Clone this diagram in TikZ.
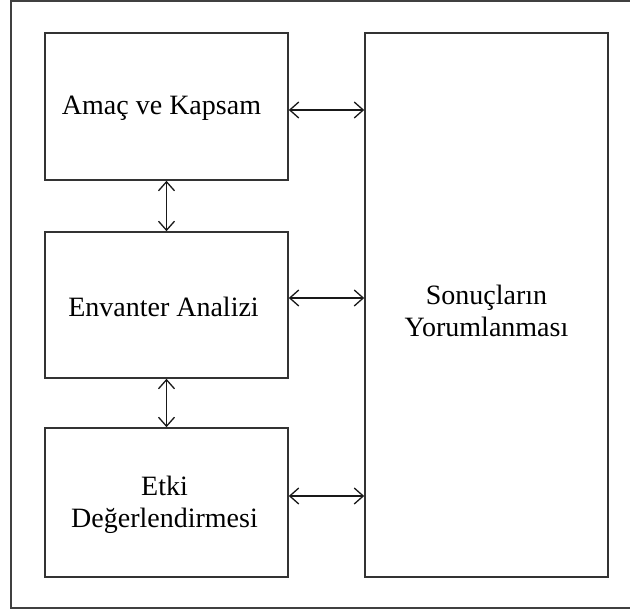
\documentclass[tikz,border=0pt]{standalone}
\usepackage{fontspec}
\setmainfont{Liberation Serif}
\usetikzlibrary{arrows.meta}
\begin{document}
\begin{tikzpicture}[x=1pt,y=-1pt,
  box/.style={draw=black!80,line width=1.6pt},
  lbl/.style={font=\fontsize{28}{32}\selectfont,align=center,text=black},
  biarrow/.style={draw=black!90,line width=1.3pt,{Straight Barb[length=9pt,width=16pt]}-{Straight Barb[length=9pt,width=16pt]}}]
\useasboundingbox (0,0) rectangle (630,613);
\draw[draw=black!75,line width=1.3pt] (11,1) rectangle (634,608);
\node[box,minimum width=243pt,minimum height=147pt,inner sep=0pt] (amac) at (166.5,106.5) {};
\node[box,minimum width=243pt,minimum height=146pt,inner sep=0pt] (env) at (166.5,305) {};
\node[box,minimum width=243pt,minimum height=149pt,inner sep=0pt] (etki) at (166.5,502.5) {};
\node[box,minimum width=243pt,minimum height=544pt,inner sep=0pt] (sonuc) at (486.5,305) {};
\node[lbl] at ([xshift=-5pt,yshift=-2pt]amac.center) {Amaç ve Kapsam};
\node[lbl] at ([xshift=-3pt,yshift=-2pt]env.center) {Envanter Analizi};
\node[lbl] at ([xshift=-2pt,yshift=-2pt]etki.center) {Etki\\Değerlendirmesi};
\node[lbl] at ([yshift=-6pt]sonuc.center) {Sonuçların\hspace{16pt}\\Yorumlanması};
\draw[biarrow] (amac.south) -- (env.north);
\draw[biarrow] (env.south) -- (etki.north);
\draw[biarrow] (amac.east |- 0,110) -- (sonuc.west |- 0,110);
\draw[biarrow] (env.east |- 0,298) -- (sonuc.west |- 0,298);
\draw[biarrow] (etki.east |- 0,496) -- (sonuc.west |- 0,496);
\end{tikzpicture}
\end{document}
